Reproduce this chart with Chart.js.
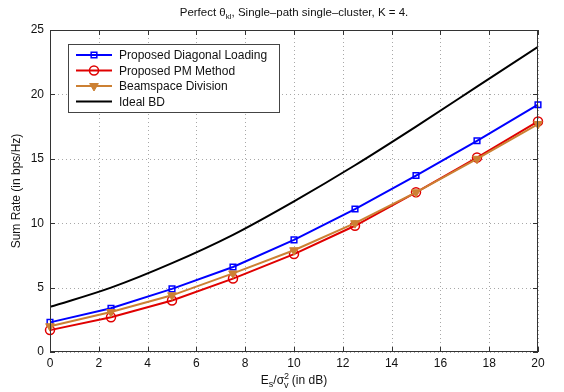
<!DOCTYPE html>
<html>
<head>
<meta charset="utf-8">
<script src="https://cdn.jsdelivr.net/npm/chart.js@4"></script>
<style>
  html, body { margin: 0; padding: 0; background: #fff; }
  #wrap { width: 564px; height: 392px; position: relative; }
</style>
</head>
<body>
<div id="wrap"><canvas id="chart"></canvas></div>
<script>
var snrDb = [0, 2.5, 5, 7.5, 10, 12.5, 15, 17.5, 20];
var diagLoading = [2.3, 3.4, 4.9, 6.6, 8.7, 11.1, 13.7, 16.4, 19.2];
var pmMethod = [1.7, 2.7, 4.0, 5.7, 7.6, 9.8, 12.4, 15.1, 17.9];
var beamspaceDiv = [2.0, 3.1, 4.4, 6.1, 7.9, 10.0, 12.4, 15.0, 17.7];
var idealBd = [3.5, 5.0, 6.9, 9.1, 11.7, 14.5, 17.5, 20.6, 23.7];
var xTicks = [0, 2, 4, 6, 8, 10, 12, 14, 16, 18, 20];
var yTicks = [0, 5, 10, 15, 20, 25];

var FONT = '"Liberation Sans", Arial, sans-serif';

function pts(ys) {
    return snrDb.map(function (x, i) { return { x: x, y: ys[i] }; });
}

// dotted grid under the data
var gridPlugin = {
    id: 'dotGrid',
    beforeDatasetsDraw: function (chart) {
        var ctx = chart.ctx;
        var a = chart.chartArea;
        var xs = chart.scales.x, ys = chart.scales.y;
        ctx.save();
        ctx.strokeStyle = '#a8a8a8';
        ctx.lineWidth = 1;
        ctx.setLineDash([1, 3]);
        ctx.beginPath();
        xTicks.forEach(function (t) {
            var px = Math.round(xs.getPixelForValue(t)) + 0.5;
            ctx.moveTo(px, a.top); ctx.lineTo(px, a.bottom);
        });
        yTicks.forEach(function (t) {
            var py = Math.round(ys.getPixelForValue(t)) + 0.5;
            ctx.moveTo(a.left, py); ctx.lineTo(a.right, py);
        });
        ctx.stroke();
        ctx.restore();
    }
};

// frame, inward ticks, title, axis titles with sub/superscripts, legend box
var decorPlugin = {
    id: 'decor',
    afterDraw: function (chart) {
        var ctx = chart.ctx;
        var a = chart.chartArea;
        var xs = chart.scales.x, ys = chart.scales.y;
        ctx.save();
        ctx.strokeStyle = '#333';
        ctx.lineWidth = 1;
        ctx.strokeRect(a.left + 0.5, a.top + 0.5, a.right - a.left - 1, a.bottom - a.top - 1);
        ctx.beginPath();
        xTicks.forEach(function (t) {
            var px = Math.round(xs.getPixelForValue(t)) + 0.5;
            ctx.moveTo(px, a.bottom); ctx.lineTo(px, a.bottom - 5);
            ctx.moveTo(px, a.top); ctx.lineTo(px, a.top + 5);
        });
        yTicks.forEach(function (t) {
            var py = Math.round(ys.getPixelForValue(t)) + 0.5;
            ctx.moveTo(a.left, py); ctx.lineTo(a.left + 5, py);
            ctx.moveTo(a.right, py); ctx.lineTo(a.right - 5, py);
        });
        ctx.stroke();

        // title
        ctx.fillStyle = '#111';
        ctx.textBaseline = 'alphabetic';
        ctx.textAlign = 'left';
        var parts = [['Perfect θ', 11.5, 0], ['kl', 8, 3], [', Single\u2013path single\u2013cluster, K = 4.', 11.5, 0]];
        drawParts(ctx, parts, (a.left + a.right) / 2, 16);

        // x title
        var xparts = [['E', 12, 0], ['s', 9, 3], ['/σ', 12, 0], ['2', 9, -5, true], ['v', 9, 4], [' (in dB)', 12, 0]];
        drawParts(ctx, xparts, (a.left + a.right) / 2, 384);

        // y title
        ctx.save();
        ctx.translate(20, (a.top + a.bottom) / 2);
        ctx.rotate(-Math.PI / 2);
        ctx.textAlign = 'center';
        ctx.font = '12px ' + FONT;
        ctx.fillText('Sum Rate (in bps/Hz)', 0, 0);
        ctx.restore();

        // legend
        var lx = 68, ly = 44, lw = 211, lh = 68;
        ctx.fillStyle = '#fff';
        ctx.fillRect(lx, ly, lw, lh);
        ctx.strokeStyle = '#444';
        ctx.lineWidth = 1;
        ctx.strokeRect(lx + 0.5, ly + 0.5, lw, lh);
        ctx.font = '12px ' + FONT;
        ctx.textBaseline = 'middle';
        chart.data.datasets.forEach(function (ds, i) {
            var yy = ly + 11 + i * 15.5;
            ctx.strokeStyle = ds.borderColor;
            ctx.lineWidth = 2;
            ctx.beginPath();
            ctx.moveTo(lx + 8, yy); ctx.lineTo(lx + 44, yy);
            ctx.stroke();
            if (ds.pointRadius > 0) {
                ctx.fillStyle = ds.pointBackgroundColor;
                ctx.strokeStyle = ds.borderColor;
                ctx.lineWidth = ds.pointBorderWidth;
                Chart.helpers.drawPoint(ctx, {
                    pointStyle: ds.pointStyle,
                    rotation: ds.pointRotation || 0,
                    radius: ds.pointRadius,
                    borderWidth: ds.pointBorderWidth
                }, lx + 26, yy);
            }
            ctx.fillStyle = '#111';
            ctx.fillText(ds.label, lx + 51, yy + 1);
        });
        ctx.restore();
    }
};

function drawParts(ctx, parts, cx, baseY) {
    var total = 0, widths = [];
    parts.forEach(function (p) {
        ctx.font = p[1] + 'px ' + FONT;
        var w = ctx.measureText(p[0]).width;
        // superscript sits over the next subscript, so it takes no width
        widths.push(p[3] ? 0 : w);
        total += p[3] ? 0 : w;
    });
    var x = cx - total / 2;
    parts.forEach(function (p, i) {
        ctx.font = p[1] + 'px ' + FONT;
        ctx.fillText(p[0], x, baseY + p[2]);
        x += widths[i];
    });
}

new Chart(document.getElementById('chart'), {
    type: 'line',
    data: {
        datasets: [
            {
                label: 'Proposed Diagonal Loading',
                data: pts(diagLoading),
                borderColor: '#0000ff',
                backgroundColor: '#0000ff',
                pointBackgroundColor: 'rgba(255,255,255,0)',
                pointStyle: 'rect',
                pointRadius: 4,
                pointBorderWidth: 1.5,
                borderWidth: 2,
                clip: false,
                order: 3
            },
            {
                label: 'Proposed PM Method',
                data: pts(pmMethod),
                borderColor: '#e00000',
                backgroundColor: '#e00000',
                pointBackgroundColor: 'rgba(255,255,255,0)',
                pointStyle: 'circle',
                pointRadius: 4.5,
                pointBorderWidth: 1.5,
                borderWidth: 2,
                clip: false,
                order: 2
            },
            {
                label: 'Beamspace Division',
                data: pts(beamspaceDiv),
                borderColor: '#cc8033',
                backgroundColor: '#cc8033',
                pointBackgroundColor: '#cc8033',
                pointStyle: 'triangle',
                pointRotation: 180,
                pointRadius: 5,
                pointBorderWidth: 1,
                borderWidth: 2,
                clip: false,
                order: 1
            },
            {
                label: 'Ideal BD',
                data: pts(idealBd),
                borderColor: '#000000',
                backgroundColor: '#000000',
                pointRadius: 0,
                borderWidth: 2,
                cubicInterpolationMode: 'monotone',
                order: 4
            }
        ]
    },
    options: {
        responsive: true,
        maintainAspectRatio: false,
        animation: false,
        layout: { padding: { top: 30, right: 26, left: 0, bottom: 0 } },
        plugins: {
            legend: { display: false },
            tooltip: { enabled: false },
            title: { display: false }
        },
        scales: {
            x: {
                type: 'linear',
                min: 0,
                max: 20,
                afterBuildTicks: function (s) { s.ticks = xTicks.map(function (v) { return { value: v }; }); },
                afterFit: function (s) { s.height = 40; },
                grid: { display: false, drawTicks: false },
                border: { display: false },
                ticks: { color: '#111', font: { family: FONT, size: 12 }, padding: 4, maxRotation: 0 }
            },
            y: {
                min: 0,
                max: 25,
                afterBuildTicks: function (s) { s.ticks = yTicks.map(function (v) { return { value: v }; }); },
                afterFit: function (s) { s.width = 50; },
                grid: { display: false, drawTicks: false },
                border: { display: false },
                ticks: { color: '#111', font: { family: FONT, size: 12 }, padding: 6 }
            }
        }
    },
    plugins: [gridPlugin, decorPlugin]
});
</script>
</body>
</html>
